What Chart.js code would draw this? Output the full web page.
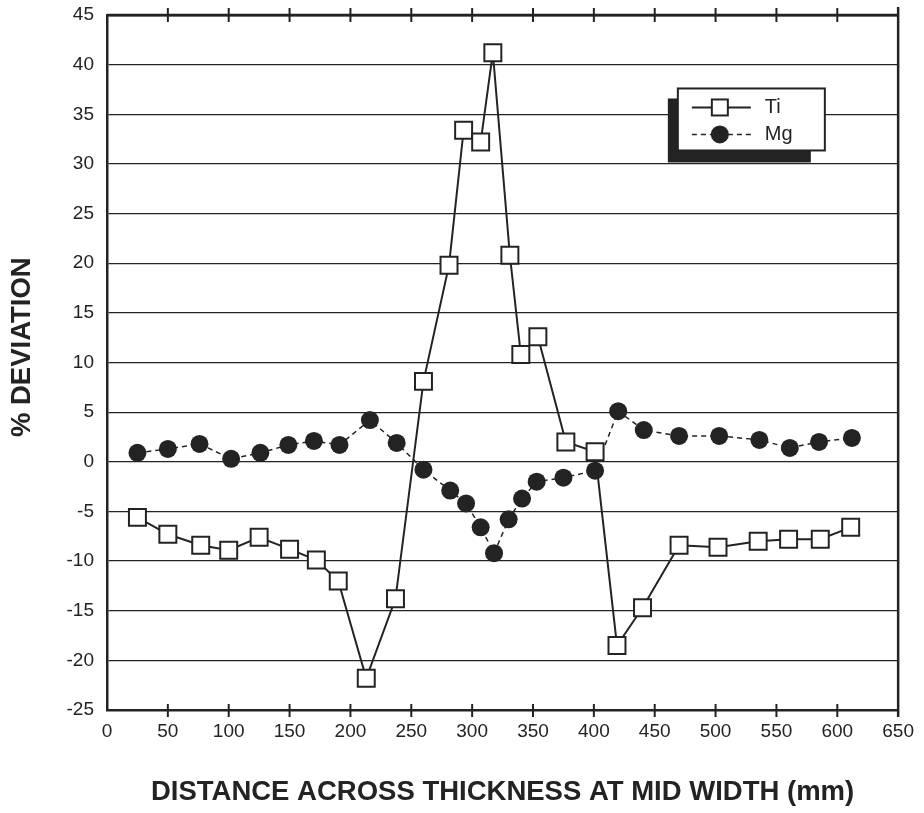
<!DOCTYPE html>
<html>
<head>
<meta charset="utf-8">
<script src="https://cdn.jsdelivr.net/npm/chart.js@4"></script>
<style>
  body { margin: 0; background: #fff; }
  #wrap { width: 924px; height: 813px; position: relative; }
</style>
</head>
<body>
<div id="wrap"><canvas id="devChart"></canvas></div>
<script>
// distance across thickness (mm) and % deviation
const tiX = [25, 50, 77, 100, 125, 150, 172, 190, 213, 237, 260, 281, 293, 307, 317, 331, 340, 354, 377, 401, 419, 440, 470, 502, 535, 560, 586, 611];
const tiY = [-5.6, -7.3, -8.4, -8.9, -7.6, -8.8, -9.9, -12.0, -21.8, -13.8, 8.1, 19.8, 33.4, 32.2, 41.2, 20.8, 10.8, 12.6, 2.0, 1.0, -18.5, -14.7, -8.4, -8.6, -8.0, -7.8, -7.8, -6.6];

const mgX = [25, 50, 76, 102, 126, 149, 170, 191, 216, 238, 260, 282, 295, 307, 318, 330, 341, 353, 375, 401, 420, 441, 470, 503, 536, 561, 585, 612];
const mgY = [0.9, 1.3, 1.8, 0.3, 0.9, 1.7, 2.1, 1.7, 4.2, 1.9, -0.8, -2.9, -4.2, -6.6, -9.2, -5.8, -3.7, -2.0, -1.6, -0.9, 5.1, 3.2, 2.6, 2.6, 2.2, 1.4, 2.0, 2.4];

const xTicks = [0, 50, 100, 150, 200, 250, 300, 350, 400, 450, 500, 550, 600, 650];
const yTicks = [-25, -20, -15, -10, -5, 0, 5, 10, 15, 20, 25, 30, 35, 40, 45];

const ink = '#232323';
const fontFam = "'Liberation Sans', Arial, Helvetica, sans-serif";

function toPoints(xs, ys) {
    return xs.map((x, i) => ({ x: x, y: ys[i] }));
}

// right border, thick top line and the tick marks that cross top and bottom
const framePlugin = {
    id: 'frame',
    afterDatasetsDraw(chart) {
        const { ctx, chartArea: a, scales } = chart;
        ctx.save();
        ctx.strokeStyle = ink;
        ctx.lineWidth = 2.5;
        ctx.beginPath();
        ctx.moveTo(a.left, a.top);
        ctx.lineTo(a.right, a.top);
        ctx.moveTo(a.right, a.top - 8);
        ctx.lineTo(a.right, a.bottom + 7);
        ctx.stroke();
        ctx.lineWidth = 2;
        ctx.beginPath();
        xTicks.slice(1, -1).forEach(v => {
            const px = scales.x.getPixelForValue(v);
            ctx.moveTo(px, a.top - 7);
            ctx.lineTo(px, a.top + 7);
            ctx.moveTo(px, a.bottom - 6);
            ctx.lineTo(px, a.bottom + 7);
        });
        ctx.stroke();
        ctx.restore();
    }
};

// boxed legend with a solid drop shadow, placed inside the plot
const boxLegend = {
    id: 'boxLegend',
    afterDatasetsDraw(chart) {
        const { ctx, scales } = chart;
        const left = scales.x.getPixelForValue(469);
        const top = scales.y.getPixelForValue(37.6);
        const w = 147, h = 62;
        ctx.save();
        ctx.fillStyle = ink;
        ctx.fillRect(left - 10, top + 10, w - 4, h + 2);
        ctx.fillStyle = '#fff';
        ctx.fillRect(left, top, w, h);
        ctx.strokeStyle = ink;
        ctx.lineWidth = 2;
        ctx.strokeRect(left, top, w, h);

        ctx.font = '20px ' + fontFam;
        ctx.textBaseline = 'middle';
        chart.data.datasets.forEach((ds, i) => {
            const cy = top + 19 + i * 27;
            const x0 = left + 14, x1 = left + 73, mx = left + 42;
            ctx.strokeStyle = ink;
            ctx.lineWidth = ds.borderWidth;
            ctx.setLineDash(ds.borderDash || []);
            ctx.beginPath();
            ctx.moveTo(x0, cy);
            ctx.lineTo(x1, cy);
            ctx.stroke();
            ctx.setLineDash([]);
            if (ds.pointStyle === 'rect') {
                ctx.fillStyle = '#fff';
                ctx.fillRect(mx - 8, cy - 8, 16, 16);
                ctx.lineWidth = 2;
                ctx.strokeRect(mx - 8, cy - 8, 16, 16);
            } else {
                ctx.fillStyle = ink;
                ctx.beginPath();
                ctx.arc(mx, cy, 9, 0, Math.PI * 2);
                ctx.fill();
            }
            ctx.fillStyle = ink;
            ctx.fillText(ds.label, left + 87, cy);
        });
        ctx.restore();
    }
};

const ctx = document.getElementById('devChart').getContext('2d');

const devChart = new Chart(ctx, {
    type: 'line',
    data: {
        datasets: [{
            label: 'Ti',
            data: toPoints(tiX, tiY),
            borderColor: ink,
            borderWidth: 2,
            pointStyle: 'rect',
            pointRadius: 12,
            pointBorderWidth: 2,
            pointBackgroundColor: '#fff',
            pointBorderColor: ink,
            order: 1
        }, {
            label: 'Mg',
            data: toPoints(mgX, mgY),
            borderColor: ink,
            borderWidth: 1.5,
            borderDash: [5, 4],
            pointStyle: 'circle',
            pointRadius: 9,
            pointBorderWidth: 0,
            pointBackgroundColor: ink,
            pointBorderColor: ink,
            order: 2
        }]
    },
    options: {
        responsive: true,
        maintainAspectRatio: false,
        animation: false,
        layout: { padding: { top: 15, right: 25, left: 0, bottom: 0 } },
        plugins: {
            legend: { display: false },
            tooltip: { enabled: false }
        },
        scales: {
            x: {
                type: 'linear',
                min: 0,
                max: 650,
                afterBuildTicks: axis => { axis.ticks = xTicks.map(v => ({ value: v })); },
                afterFit: axis => { axis.height = 103; },
                grid: { drawOnChartArea: false, drawTicks: false },
                border: { display: true, color: ink, width: 2.5 },
                ticks: {
                    color: ink,
                    padding: 10,
                    maxRotation: 0,
                    font: { family: fontFam, size: 19 }
                },
                title: {
                    display: true,
                    text: 'DISTANCE ACROSS THICKNESS AT MID WIDTH (mm)',
                    color: ink,
                    font: { family: fontFam, size: 27.5, weight: 'bold' },
                    padding: { top: 0, bottom: 4 }
                }
            },
            y: {
                min: -25,
                max: 45,
                afterBuildTicks: axis => { axis.ticks = yTicks.map(v => ({ value: v })); },
                afterFit: axis => {
                    axis.width = 107;
                    axis.paddingTop = 0;
                    axis.paddingBottom = 0;
                },
                grid: {
                    color: ink,
                    lineWidth: c => (c.tick && c.tick.value === 45 ? 2.5 : 1.2),
                    drawTicks: false
                },
                border: { display: true, color: ink, width: 2.5 },
                ticks: {
                    color: ink,
                    padding: 13,
                    font: { family: fontFam, size: 19 }
                },
                title: {
                    display: true,
                    text: '    % DEVIATION',
                    color: ink,
                    font: { family: fontFam, size: 27.5, weight: 'bold' },
                    padding: { top: 6, bottom: 0 }
                }
            }
        }
    },
    plugins: [framePlugin, boxLegend]
});
</script>
</body>
</html>
